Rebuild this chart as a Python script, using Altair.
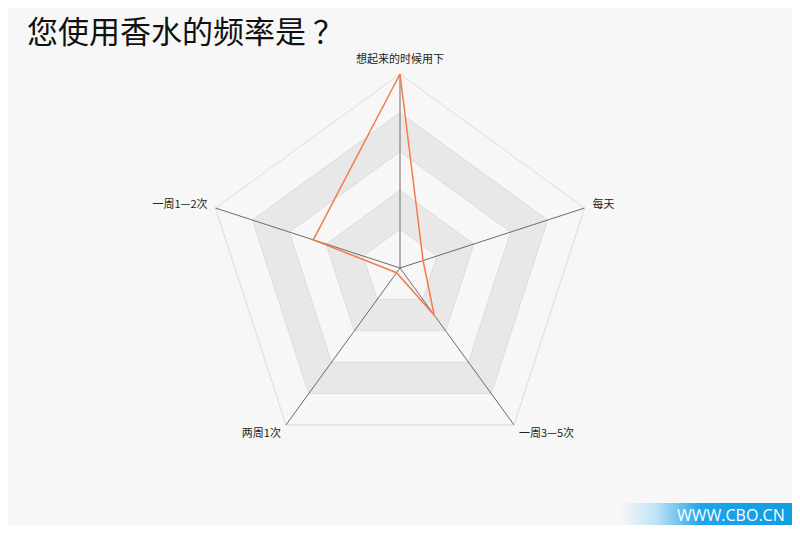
import altair as alt
import numpy as np
import pandas as pd

categories = ["想起来的时候用下", "每天", "一周3—5次", "两周1次", "一周1—2次"]
values = [1.0, 0.125, 0.3, 0.03, 0.47]
levels = [1.0, 0.8, 0.6, 0.4, 0.2]

title = "您使用香水的频率是 ？"
watermark = "WWW.CBO.CN"

BG = "#f7f7f7"
BAND = "#e8e8e8"

# page geometry: plot area covers the page minus the 8px margin
W, H = 784, 517
R = 194  # radius in px
CX, CY = 392, 260  # centre in plot px
XDOM = [-CX / R, (W - CX) / R]
YDOM = [-(H - CY) / R, CY / R]

angles = np.deg2rad(90 - 72 * np.arange(len(categories)))


def polygon(radii, name):
    idx = list(range(len(radii))) + [0]
    return pd.DataFrame({
        "x": [radii[i] * np.cos(angles[i]) for i in idx],
        "y": [radii[i] * np.sin(angles[i]) for i in idx],
        "idx": range(len(idx)),
        "name": name,
    })


xs = alt.X("x:Q", scale=alt.Scale(domain=XDOM, nice=False, zero=False), axis=None)
ys = alt.Y("y:Q", scale=alt.Scale(domain=YDOM, nice=False, zero=False), axis=None)

layers = []
for k, lv in enumerate(levels):
    fill = BAND if k % 2 == 1 else BG
    layers.append(
        alt.Chart(polygon([lv] * len(categories), f"l{lv}"))
        .mark_line(fill=fill, stroke="#dcdcdc", strokeWidth=1)
        .encode(x=xs, y=ys, order=alt.Order("idx:Q"))
    )

spokes = pd.DataFrame({
    "x": np.concatenate([np.zeros(len(categories)), np.cos(angles)]),
    "y": np.concatenate([np.zeros(len(categories)), np.sin(angles)]),
    "cat": categories * 2,
    "idx": [0] * len(categories) + [1] * len(categories),
})
layers.append(
    alt.Chart(spokes)
    .mark_line(color="#6b6b6b", strokeWidth=1)
    .encode(x=xs, y=ys, detail="cat:N", order=alt.Order("idx:Q"))
)

layers.append(
    alt.Chart(polygon(values, "data"))
    .mark_line(color="#f47b4a", strokeWidth=1.5)
    .encode(x=xs, y=ys, order=alt.Order("idx:Q"))
)

# axis labels
label_style = [
    ("center", 0, -14),
    ("left", 8, -3),
    ("left", 5, 9),
    ("right", -5, 9),
    ("right", -8, -3),
]
for i, cat in enumerate(categories):
    align, dx, dy = label_style[i]
    lab = pd.DataFrame({"x": [np.cos(angles[i])], "y": [np.sin(angles[i])], "t": [cat]})
    layers.append(
        alt.Chart(lab)
        .mark_text(align=align, baseline="middle", dx=dx, dy=dy, fontSize=11,
                   font="Noto Sans CJK SC", color="#222222")
        .encode(x=xs, y=ys, text="t:N")
    )

# title
layers.append(
    alt.Chart(pd.DataFrame({"t": [title]}))
    .mark_text(align="left", baseline="middle", fontSize=31,
               font="Noto Sans CJK SC", color="#111111")
    .encode(x=alt.value(19), y=alt.value(26), text="t:N")
)

# watermark
grad = alt.LinearGradient(
    gradient="linear",
    stops=[
        alt.GradientStop(color=BG, offset=0),
        alt.GradientStop(color="#bfe3f6", offset=0.2),
        alt.GradientStop(color="#1ea4ea", offset=0.45),
        alt.GradientStop(color="#0f9be4", offset=1),
    ],
    x1=0, x2=1, y1=0, y2=0,
)
layers.append(
    alt.Chart(pd.DataFrame({"a": [0]}))
    .mark_rect(color=grad)
    .encode(x=alt.value(612), x2=alt.value(792), y=alt.value(495), y2=alt.value(530))
)
layers.append(
    alt.Chart(pd.DataFrame({"t": [watermark]}))
    .mark_text(align="left", baseline="alphabetic", fontSize=16,
               font="Open Sans", color="white")
    .encode(x=alt.value(669), y=alt.value(513), text="t:N")
)

chart = (
    alt.layer(*layers)
    .properties(width=W, height=H, padding=0, autosize="none", background=BG)
    .configure_view(stroke=None)
)

chart.save("out.html", embed_options={"renderer": "svg", "actions": False})
